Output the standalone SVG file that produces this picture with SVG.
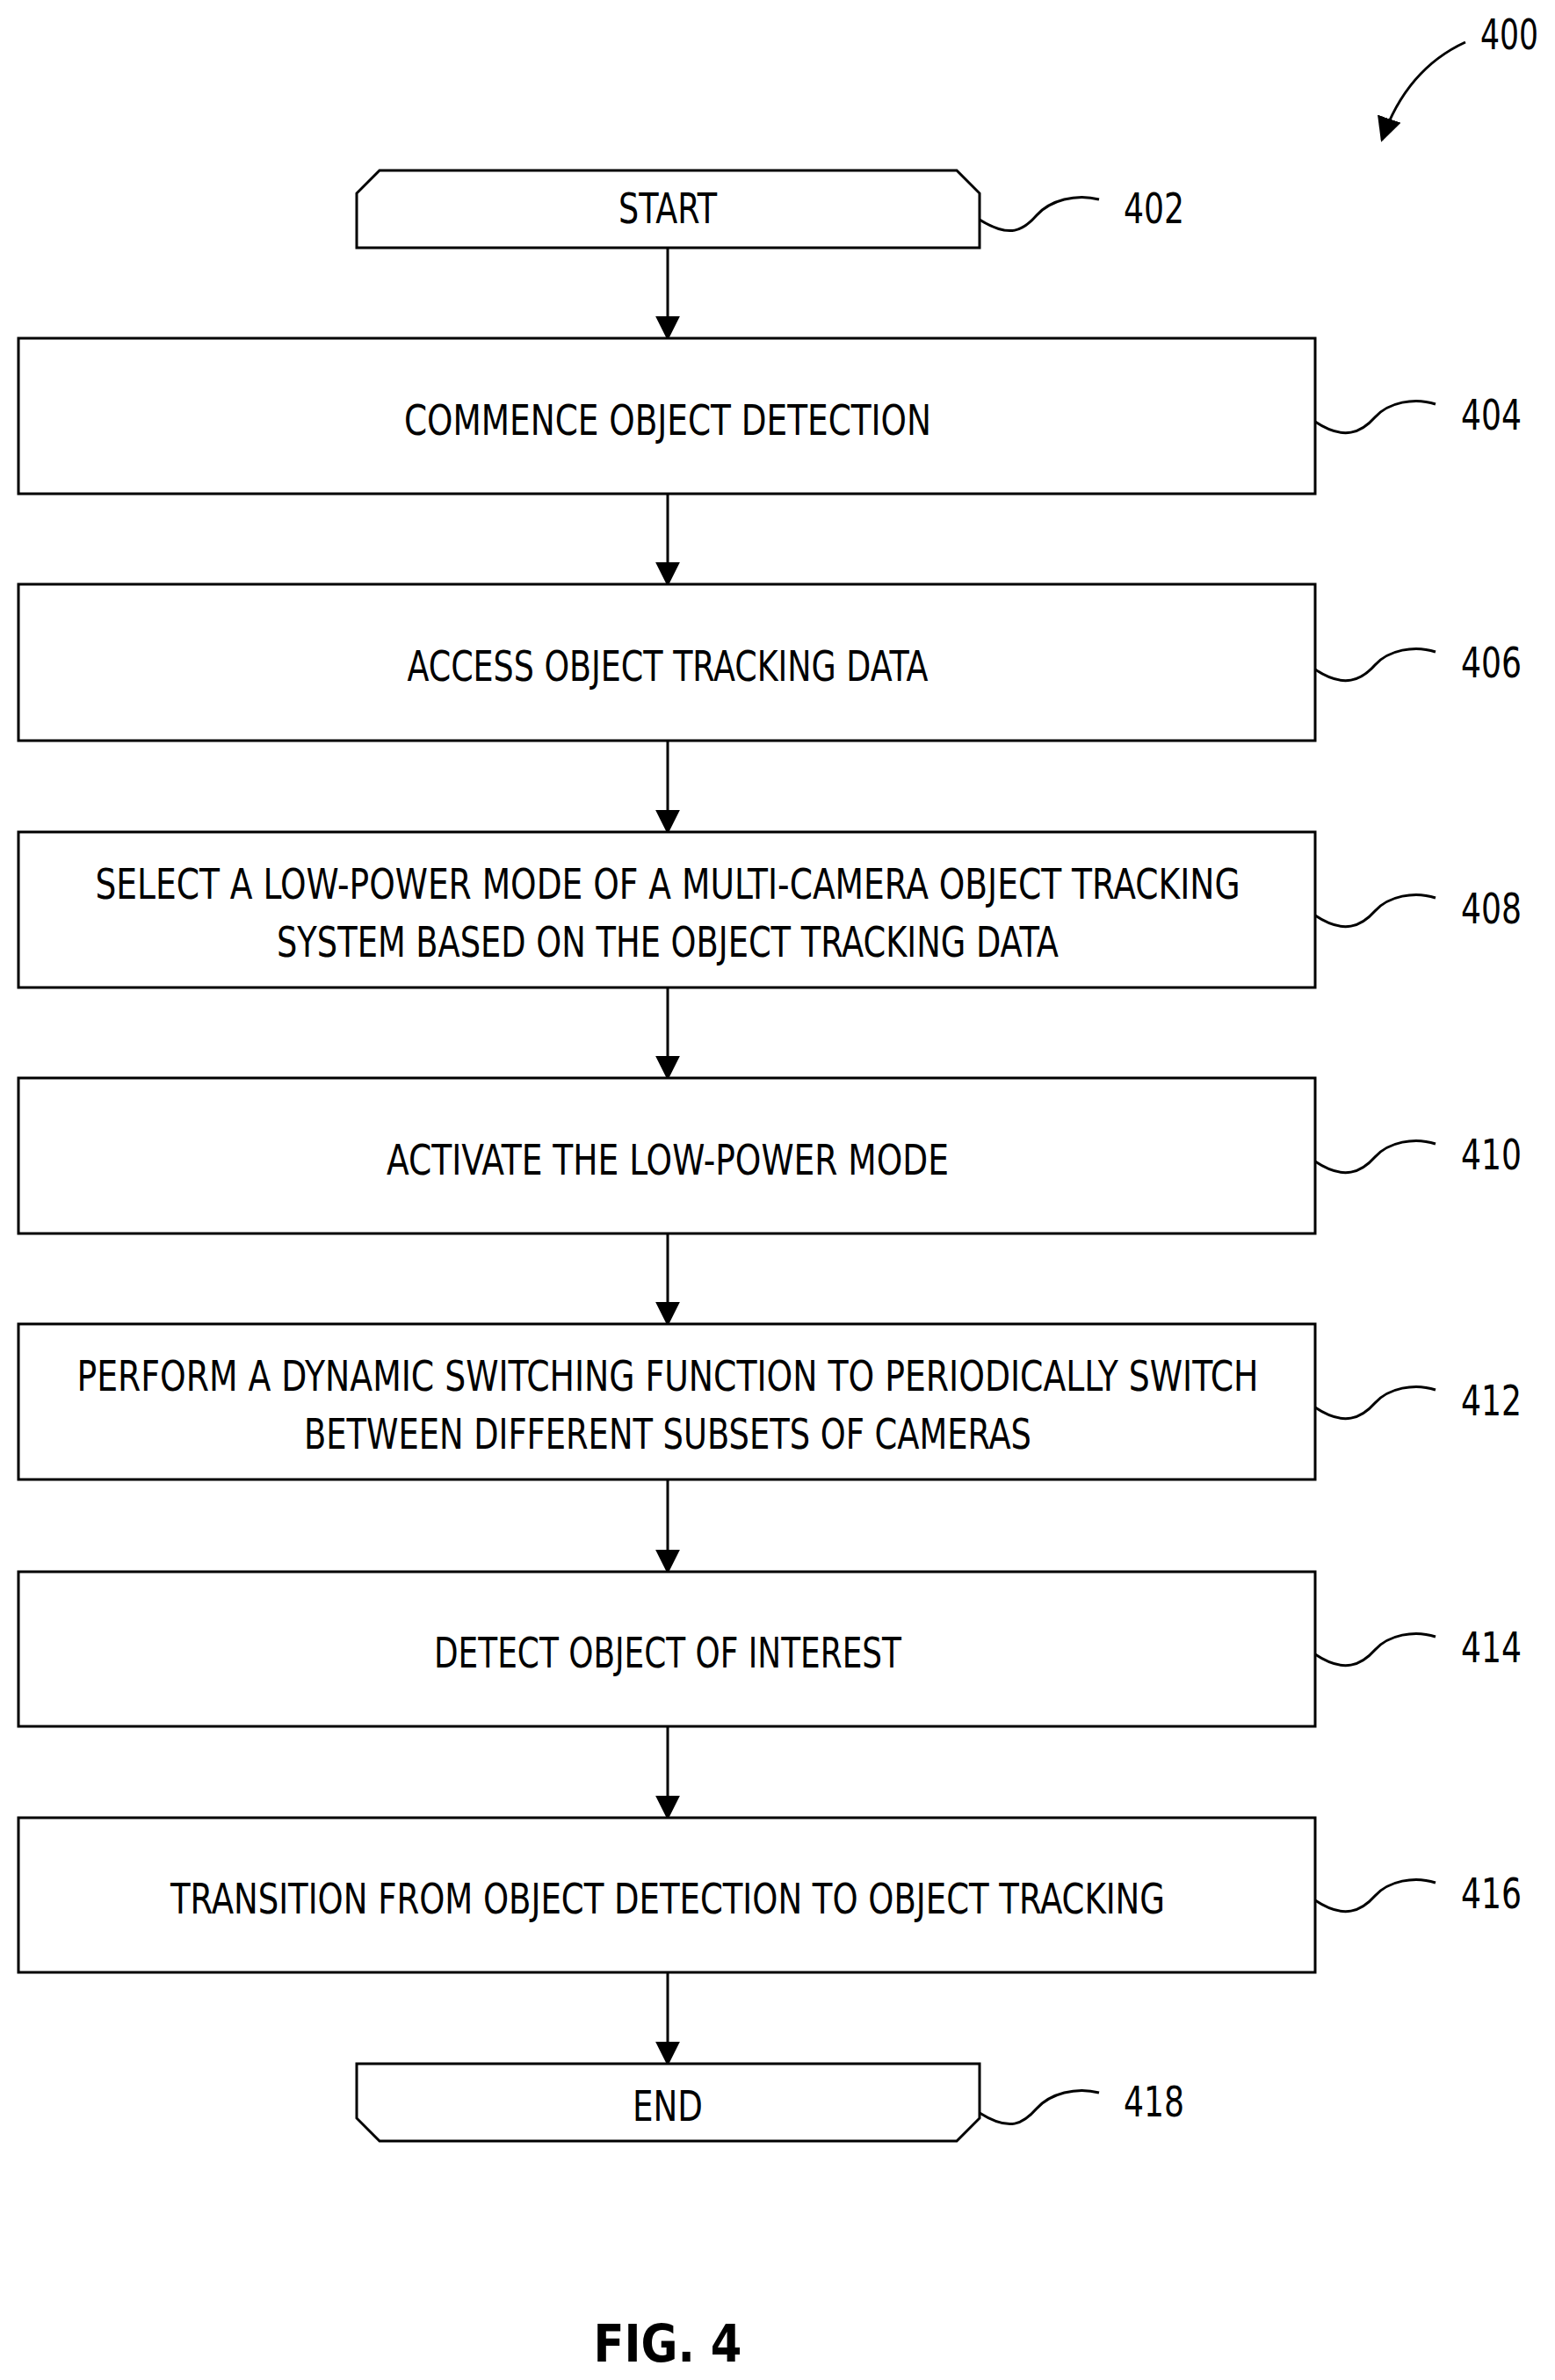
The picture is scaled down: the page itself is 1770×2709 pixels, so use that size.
<svg xmlns="http://www.w3.org/2000/svg" width="1770" height="2709" viewBox="0 0 1770 2709">
<defs>
<marker id="a2" viewBox="0 0 10 10" refX="9" refY="5" markerWidth="28" markerHeight="28" orient="auto" markerUnits="userSpaceOnUse"><path d="M0,0 L10,5 L0,10 z" fill="#000"/></marker></defs>
<style>
.b{fill:#fff;stroke:#000;stroke-width:3}
.t{font-family:"DejaVu Sans Condensed","DejaVu Sans",sans-serif;font-size:48px;text-anchor:middle;fill:#000}
.l{font-family:"DejaVu Sans Condensed","DejaVu Sans",sans-serif;font-size:48px;fill:#000}
.w{fill:none;stroke:#000;stroke-width:3}
.c{stroke:#000;stroke-width:3;fill:none;marker-end:url(#a2)}
</style>
<rect width="1770" height="2709" fill="#fff"/>
<g id="connectors">
<line class="c" x1="760" y1="282" x2="760" y2="385"/>
<line class="c" x1="760" y1="562" x2="760" y2="665"/>
<line class="c" x1="760" y1="843" x2="760" y2="947"/>
<line class="c" x1="760" y1="1124" x2="760" y2="1227"/>
<line class="c" x1="760" y1="1404" x2="760" y2="1507"/>
<line class="c" x1="760" y1="1684" x2="760" y2="1789"/>
<line class="c" x1="760" y1="1965" x2="760" y2="2069"/>
<line class="c" x1="760" y1="2245" x2="760" y2="2349"/>
<path class="c" d="M1668,48 C1620,70 1590,110 1573,159"/>
</g>
<text class="l" x="1685" y="56" textLength="66" lengthAdjust="spacingAndGlyphs">400</text>
<g id="n402"><path class="b" d="M432,194 L1089,194 L1115,220 L1115,282 L406,282 L406,220 Z"/>
<text class="t" x="760" y="254" textLength="112" lengthAdjust="spacingAndGlyphs">START</text>
<path class="w" d="M1115,250 C1150,272 1165,262 1180,245 S1225,220 1251,227"/><text class="l" x="1279" y="254" textLength="69" lengthAdjust="spacingAndGlyphs">402</text></g>
<g id="n404"><rect class="b" x="21" y="385" width="1476" height="177"/>
<text class="t" x="760" y="495" textLength="600" lengthAdjust="spacingAndGlyphs">COMMENCE OBJECT DETECTION</text>
<path class="w" d="M1497,480 C1530,502 1550,492 1565,475 S1610,452 1634,460"/><text class="l" x="1663" y="489" textLength="69" lengthAdjust="spacingAndGlyphs">404</text></g>
<g id="n406"><rect class="b" x="21" y="665" width="1476" height="178"/>
<text class="t" x="760" y="775" textLength="593" lengthAdjust="spacingAndGlyphs">ACCESS OBJECT TRACKING DATA</text>
<path class="w" d="M1497,762 C1530,784 1550,774 1565,757 S1610,734 1634,742"/><text class="l" x="1663" y="771" textLength="69" lengthAdjust="spacingAndGlyphs">406</text></g>
<g id="n408"><rect class="b" x="21" y="947" width="1476" height="177"/>
<text class="t" x="760" y="1023" textLength="1303" lengthAdjust="spacingAndGlyphs">SELECT A LOW-POWER MODE OF A MULTI-CAMERA OBJECT TRACKING</text>
<text class="t" x="760" y="1089" textLength="890" lengthAdjust="spacingAndGlyphs">SYSTEM BASED ON THE OBJECT TRACKING DATA</text>
<path class="w" d="M1497,1042 C1530,1064 1550,1054 1565,1037 S1610,1014 1634,1022"/><text class="l" x="1663" y="1051" textLength="69" lengthAdjust="spacingAndGlyphs">408</text></g>
<g id="n410"><rect class="b" x="21" y="1227" width="1476" height="177"/>
<text class="t" x="760" y="1337" textLength="640" lengthAdjust="spacingAndGlyphs">ACTIVATE THE LOW-POWER MODE</text>
<path class="w" d="M1497,1322 C1530,1344 1550,1334 1565,1317 S1610,1294 1634,1302"/><text class="l" x="1663" y="1331" textLength="69" lengthAdjust="spacingAndGlyphs">410</text></g>
<g id="n412"><rect class="b" x="21" y="1507" width="1476" height="177"/>
<text class="t" x="760" y="1583" textLength="1345" lengthAdjust="spacingAndGlyphs">PERFORM A DYNAMIC SWITCHING FUNCTION TO PERIODICALLY SWITCH</text>
<text class="t" x="760" y="1649" textLength="828" lengthAdjust="spacingAndGlyphs">BETWEEN DIFFERENT SUBSETS OF CAMERAS</text>
<path class="w" d="M1497,1602 C1530,1624 1550,1614 1565,1597 S1610,1574 1634,1582"/><text class="l" x="1663" y="1611" textLength="69" lengthAdjust="spacingAndGlyphs">412</text></g>
<g id="n414"><rect class="b" x="21" y="1789" width="1476" height="176"/>
<text class="t" x="760" y="1898" textLength="532" lengthAdjust="spacingAndGlyphs">DETECT OBJECT OF INTEREST</text>
<path class="w" d="M1497,1883 C1530,1905 1550,1895 1565,1878 S1610,1855 1634,1863"/><text class="l" x="1663" y="1892" textLength="69" lengthAdjust="spacingAndGlyphs">414</text></g>
<g id="n416"><rect class="b" x="21" y="2069" width="1476" height="176"/>
<text class="t" x="760" y="2178" textLength="1132" lengthAdjust="spacingAndGlyphs">TRANSITION FROM OBJECT DETECTION TO OBJECT TRACKING</text>
<path class="w" d="M1497,2163 C1530,2185 1550,2175 1565,2158 S1610,2135 1634,2143"/><text class="l" x="1663" y="2172" textLength="69" lengthAdjust="spacingAndGlyphs">416</text></g>
<g id="n418"><path class="b" d="M406,2349 L1115,2349 L1115,2411 L1089,2437 L432,2437 L406,2411 Z"/>
<text class="t" x="760" y="2414" textLength="80" lengthAdjust="spacingAndGlyphs">END</text>
<path class="w" d="M1115,2405 C1150,2427 1165,2417 1180,2400 S1225,2375 1251,2382"/><text class="l" x="1279" y="2409" textLength="69" lengthAdjust="spacingAndGlyphs">418</text></g>
<text x="760" y="2688" style="font-family:'DejaVu Sans',sans-serif;font-weight:bold;font-size:58px;text-anchor:middle" textLength="169" lengthAdjust="spacingAndGlyphs">FIG. 4</text>
</svg>
